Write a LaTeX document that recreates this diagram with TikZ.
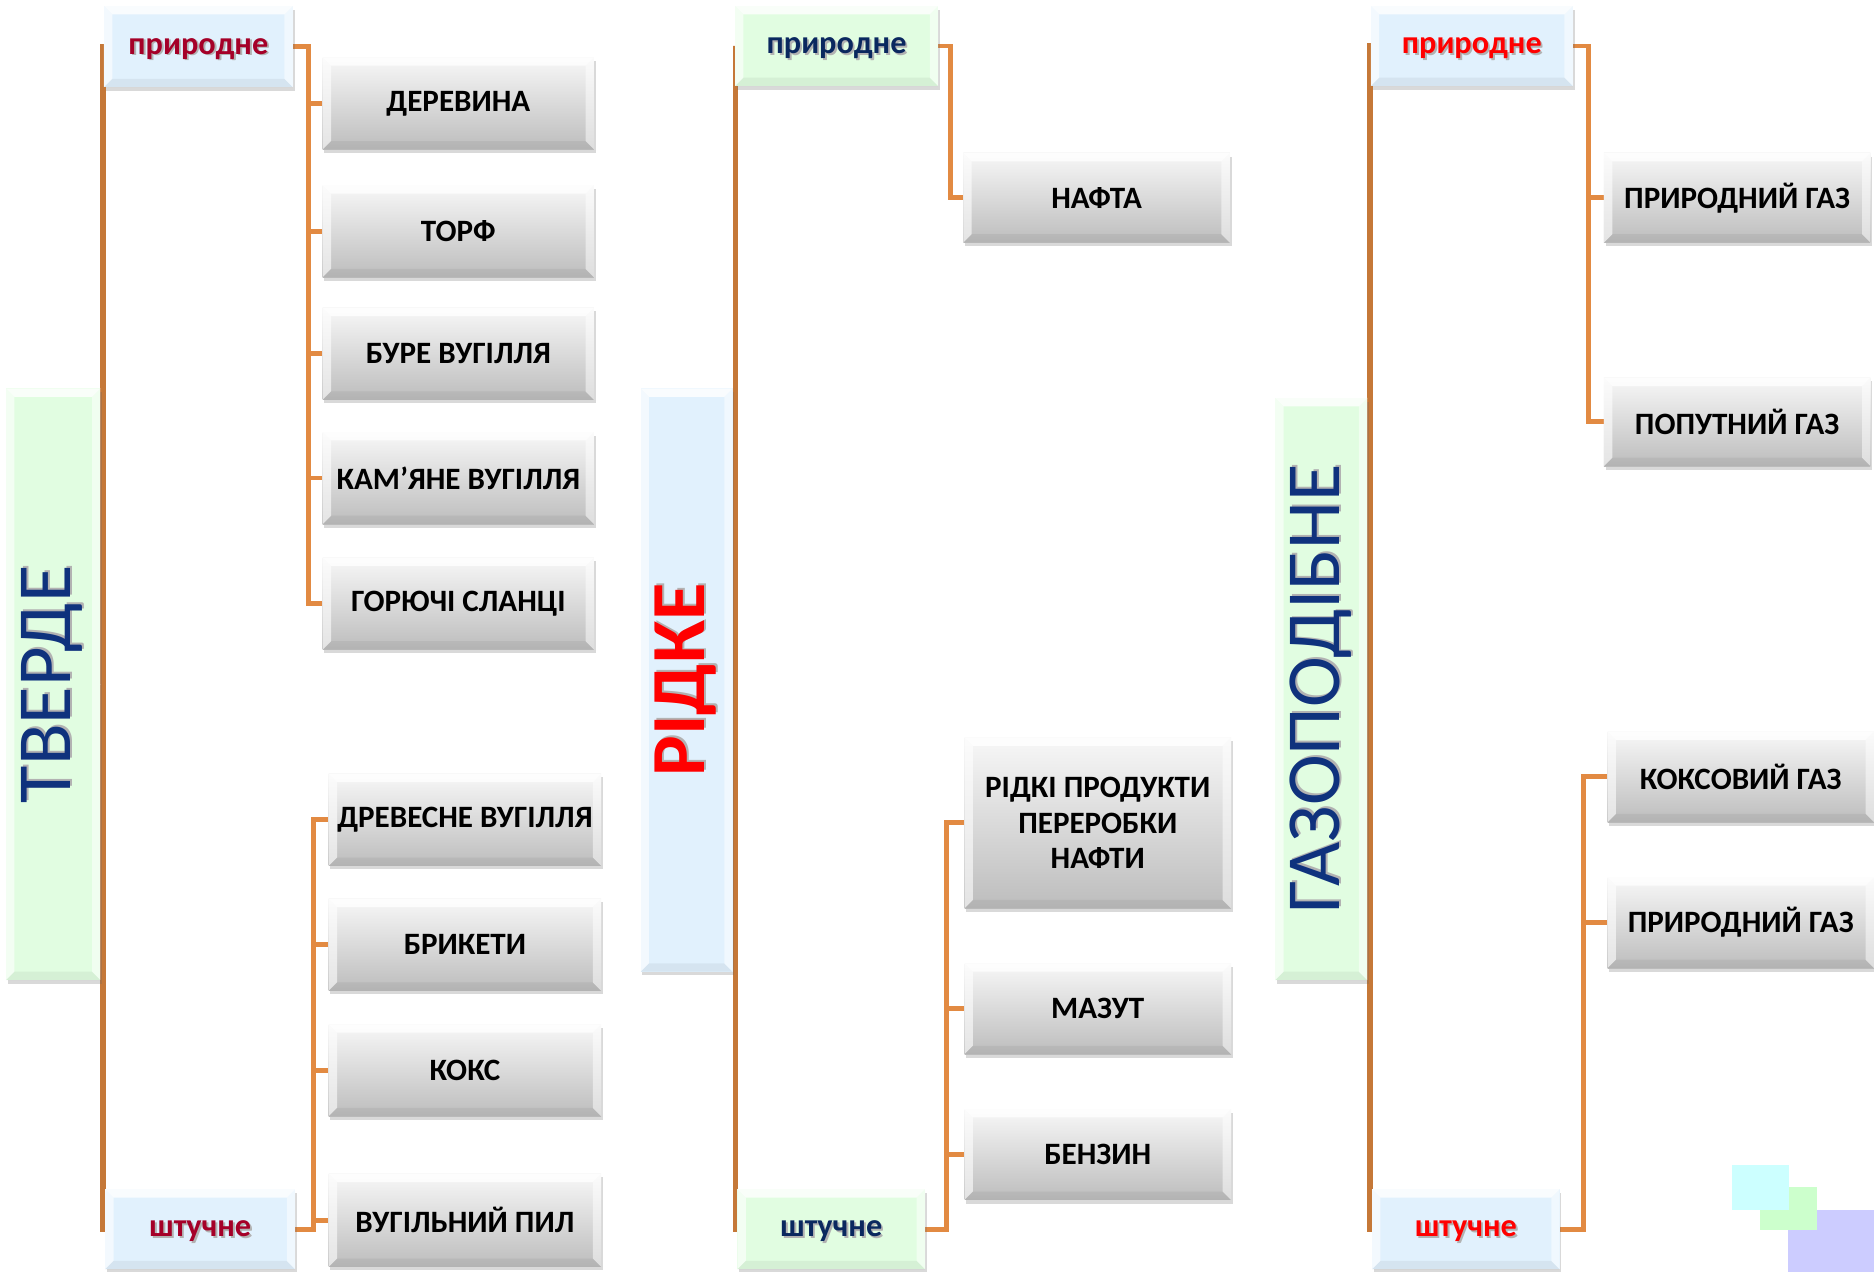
\documentclass[tikz,border=0pt]{standalone}
\usepackage{fontspec}
\setmainfont{Carlito}
\usetikzlibrary{shadows}
\definecolor{spinec}{RGB}{197,120,56}
\definecolor{branchc}{RGB}{226,138,66}
\definecolor{lblue}{RGB}{225,241,253}
\definecolor{lgreen}{RGB}{225,253,225}
\definecolor{dred}{RGB}{165,0,40}
\definecolor{navy}{RGB}{10,40,95}
\definecolor{catblue}{RGB}{15,50,125}
\definecolor{sqcyan}{RGB}{204,255,255}
\definecolor{sqgreen}{RGB}{204,255,204}
\definecolor{sqlav}{RGB}{204,204,255}
\newcommand{\shtxt}[2]{\leavevmode\rlap{\kern1.6pt\raisebox{-1.6pt}{\color{black!30}#2}}{\color{#1}#2}}
\pgfdeclarelayer{background}
\pgfsetlayers{background,main}
\tikzset{
  bevel/.style={path picture={
    \fill[white,opacity=0.8] (path picture bounding box.north west) -- (path picture bounding box.north east)
      -- ([xshift=-7pt,yshift=-7pt]path picture bounding box.north east) -- ([xshift=7pt,yshift=-7pt]path picture bounding box.north west) -- cycle;
    \fill[white,opacity=0.6] (path picture bounding box.north west) -- ([xshift=7pt,yshift=-7pt]path picture bounding box.north west)
      -- ([xshift=7pt,yshift=7pt]path picture bounding box.south west) -- (path picture bounding box.south west) -- cycle;
    \fill[black,opacity=0.05] (path picture bounding box.south west) -- (path picture bounding box.south east)
      -- ([xshift=-7pt,yshift=7pt]path picture bounding box.south east) -- ([xshift=7pt,yshift=7pt]path picture bounding box.south west) -- cycle;
    \fill[white,opacity=0.5] (path picture bounding box.north east) -- (path picture bounding box.south east)
      -- ([xshift=-7pt,yshift=7pt]path picture bounding box.south east) -- ([xshift=-7pt,yshift=-7pt]path picture bounding box.north east) -- cycle;
  }},
  boxshadow/.style={drop shadow={shadow xshift=1.5pt,shadow yshift=-3pt,opacity=0.25,fill=black!60}},
  itembox/.style={rectangle, inner sep=0pt, top color=black!3, bottom color=black!26, boxshadow, bevel,
    font=\fontsize{26}{30}\selectfont\bfseries, align=center, text=black},
  lblbox/.style={rectangle, inner sep=0pt, boxshadow, bevel, text height=12.5pt, text depth=0pt,
    font=\fontsize{27}{30}\selectfont\bfseries},
  catbox/.style={rectangle, inner sep=0pt, boxshadow, bevel, font=\fontsize{64}{70}\selectfont},
  spine/.style={draw=spinec, line width=4.5pt},
  branch/.style={draw=branchc, line width=4pt}
}
\begin{document}
\begin{tikzpicture}[x=1pt,y=-1pt]
\useasboundingbox (0,0) rectangle (1568,1064);

% decorative squares
\fill[sqlav] (1496,1012) rectangle (1568,1064);
\fill[sqgreen] (1473,993) rectangle (1520,1029);
\fill[sqcyan] (1449,975) rectangle (1497,1012);

% ===== column 1 =====
\node[catbox, fill=lgreen, minimum width=79pt, minimum height=495pt] (tv) at (44.5,572.5)
  {\rotatebox{90}{\shtxt{catblue}{ТВЕРДЕ}}};
\node[lblbox, fill=lblue, minimum width=158pt, minimum height=68pt] (pr1) at (166,39) {\shtxt{dred}{природне}};
\node[lblbox, fill=lblue, minimum width=159pt, minimum height=67pt] (sh1) at (167.5,1028.5) {\shtxt{dred}{штучне}};

\node[itembox, minimum width=227pt, minimum height=77pt] (a1) at (383.5,86.5) {ДЕРЕВИНА};
\node[itembox, minimum width=227pt, minimum height=77pt] (a2) at (383.5,193.5) {ТОРФ};
\node[itembox, minimum width=227pt, minimum height=77pt] (a3) at (383.5,296) {БУРЕ ВУГІЛЛЯ};
\node[itembox, minimum width=227pt, minimum height=77pt] (a4) at (383.5,400) {КАМ’ЯНЕ ВУГІЛЛЯ};
\node[itembox, minimum width=227pt, minimum height=77pt] (a5) at (383.5,505) {ГОРЮЧІ СЛАНЦІ};

\node[itembox, minimum width=228pt, minimum height=77pt] (b1) at (389,686) {ДРЕВЕСНЕ ВУГІЛЛЯ};
\node[itembox, minimum width=228pt, minimum height=77pt] (b2) at (389,790.5) {БРИКЕТИ};
\node[itembox, minimum width=228pt, minimum height=77pt] (b3) at (389,895.5) {КОКС};
\node[itembox, minimum width=228pt, minimum height=78pt] (b4) at (389,1021) {ВУГІЛЬНИЙ ПИЛ};

% ===== column 2 =====
\node[catbox, fill=lblue, minimum width=77pt, minimum height=488pt] (rd) at (574.5,569)
  {\rotatebox{90}{\shtxt{red}{\bfseries РІДКЕ}}};
\node[lblbox, fill=lgreen, minimum width=170pt, minimum height=67pt] (pr2) at (700,38.5) {\shtxt{navy}{природне}};
\node[lblbox, fill=lgreen, minimum width=157pt, minimum height=67pt] (sh2) at (695.5,1028.5) {\shtxt{navy}{штучне}};

\node[itembox, minimum width=223pt, minimum height=75pt] (c1) at (917.5,165.5) {НАФТА};
\node[itembox, minimum width=223pt, minimum height=143pt] (d1) at (918.5,688.5) {РІДКІ ПРОДУКТИ\\ПЕРЕРОБКИ\\НАФТИ};
\node[itembox, minimum width=223pt, minimum height=76pt] (d2) at (918.5,844) {МАЗУТ};
\node[itembox, minimum width=223pt, minimum height=76pt] (d3) at (918.5,966) {БЕНЗИН};

% ===== column 3 =====
\node[catbox, fill=lgreen, minimum width=77pt, minimum height=487pt] (gz) at (1105.5,576.5)
  {\rotatebox{90}{\shtxt{catblue}{ГАЗОПОДІБНЕ}}};
\node[lblbox, fill=lblue, minimum width=169pt, minimum height=67pt] (pr3) at (1231.5,38.5) {\shtxt{red}{природне}};
\node[lblbox, fill=lblue, minimum width=157pt, minimum height=67pt] (sh3) at (1226.5,1028.5) {\shtxt{red}{штучне}};

\node[itembox, minimum width=223pt, minimum height=75pt] (e1) at (1453.5,165.5) {ПРИРОДНИЙ ГАЗ};
\node[itembox, minimum width=223pt, minimum height=74pt] (e2) at (1453.5,353) {ПОПУТНИЙ ГАЗ};
\node[itembox, minimum width=223pt, minimum height=76pt] (f1) at (1456.5,650) {КОКСОВИЙ ГАЗ};
\node[itembox, minimum width=223pt, minimum height=76pt] (f2) at (1456.5,772) {ПРИРОДНИЙ ГАЗ};

% ===== connectors =====
\begin{pgfonlayer}{background}
\draw[spine] (tv.east) -- ++(2,0) |- (pr1.west);
\draw[spine] (tv.east) -- ++(2,0) |- (sh1.west);
\foreach \t in {a1,a2,a3,a4,a5} \draw[branch] (pr1.east) -- ++(13,0) |- (\t.west);
\foreach \t in {b1,b2,b3,b4} \draw[branch] (sh1.east) -- ++(15,0) |- (\t.west);

\draw[spine] (rd.east) -- ++(2,0) |- (pr2.west);
\draw[spine] (rd.east) -- ++(2,0) |- (sh2.west);
\draw[branch] (pr2.east) -- ++(10,0) |- (c1.west);
\foreach \t in {d1,d2,d3} \draw[branch] (sh2.east) -- ++(18,0) |- (\t.west);

\draw[spine] (gz.east) -- ++(2,0) |- (pr3.west);
\draw[spine] (gz.east) -- ++(2,0) |- (sh3.west);
\foreach \t in {e1,e2} \draw[branch] (pr3.east) -- ++(13,0) |- (\t.west);
\foreach \t in {f1,f2} \draw[branch] (sh3.east) -- ++(20,0) |- (\t.west);
\end{pgfonlayer}
\end{tikzpicture}
\end{document}
